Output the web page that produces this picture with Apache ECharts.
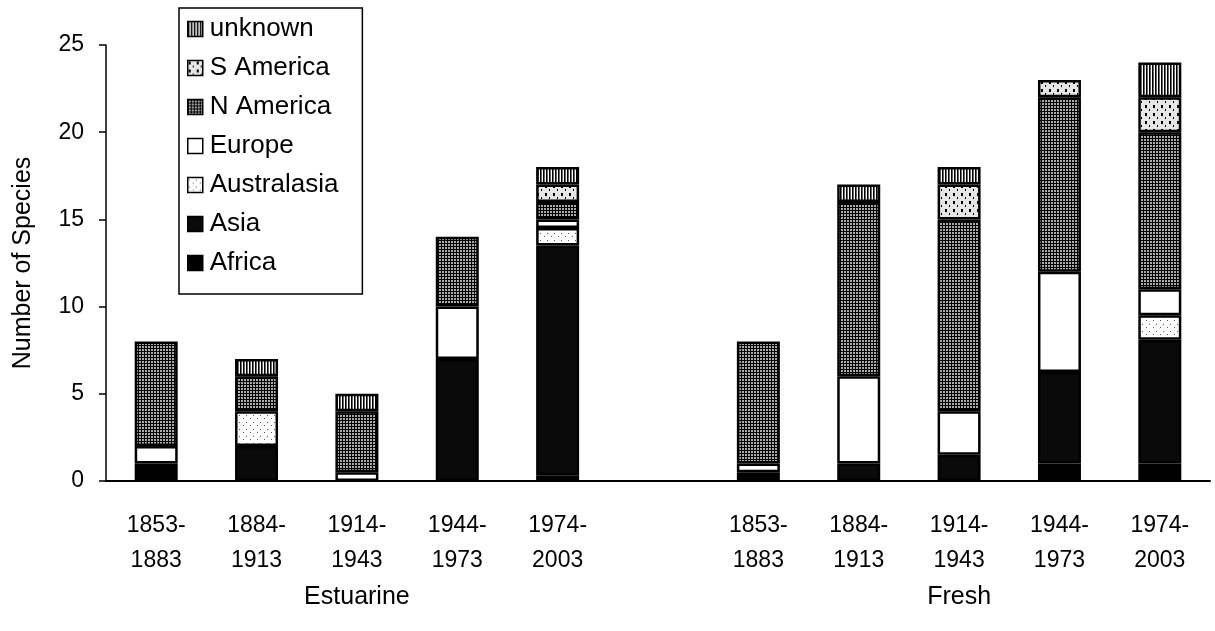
<!DOCTYPE html>
<html>
<head>
<meta charset="utf-8">
<script src="https://cdn.jsdelivr.net/npm/echarts@6/dist/echarts.min.js"></script>
<style>
  html, body { margin: 0; padding: 0; background: #fff; }
  #chart { width: 1215px; height: 631px; }
</style>
</head>
<body>
<div id="chart"></div>
<script>
// periods, with an empty slot between the two habitat groups
var periods = ['1853-\n1883', '1884-\n1913', '1914-\n1943', '1944-\n1973', '1974-\n2003', '',
               '1853-\n1883', '1884-\n1913', '1914-\n1943', '1944-\n1973', '1974-\n2003'];
var groupLabels = ['', '', 'Estuarine', '', '', '', '', '', 'Fresh', '', ''];

// species counts per origin (bottom of the stack first)
var africa      = [1, 0, 0,   0, 0.33,  0, 0.5, 0,  0,   1,    1];
var asia        = [0, 2, 0,   7, 13.17, 0, 0,   1,  1.5, 5.25, 7.1];
var australasia = [0, 2, 0,   0, 1,     0, 0,   0,  0,   0,    1.4];
var europe      = [1, 0, 0.5, 3, 0.5,   0, 0.5, 5,  2.5, 5.75, 1.5];
var nAmerica    = [6, 2, 3.5, 4, 1,     0, 7,   10, 11,  10,   9];
var sAmerica    = [0, 0, 0,   0, 1,     0, 0,   0,  2,   1,    2];
var unknown     = [0, 1, 1,   0, 1,     0, 0,   1,  1,   0,    2];

var yTicks = [0, 5, 10, 15, 20, 25];

var FONT = 'Arial, "Liberation Sans", sans-serif';

// small canvas tiles to mimic the print hatchings
var tile = function(w, h, bg, draw) {
    var c = document.createElement('canvas');
    c.width = w; c.height = h;
    var ctx = c.getContext('2d');
    ctx.fillStyle = bg;
    ctx.fillRect(0, 0, w, h);
    ctx.fillStyle = '#000';
    draw(ctx);
    return { image: c, repeat: 'repeat' };
};

var patUnknown = tile(3, 4, '#fff', function(ctx) {
    ctx.fillRect(0, 0, 1, 4);
    ctx.fillStyle = '#666';
    ctx.fillRect(1, 0, 1, 4);
});
var patNAm = tile(3, 3, '#aaa', function(ctx) {
    ctx.fillRect(0, 0, 1, 3);
    ctx.fillRect(0, 0, 3, 1);
});
var patSAm = tile(8, 8, '#e6e6e6', function(ctx) {
    ctx.fillRect(1, 1, 2, 3);
    ctx.fillRect(5, 5, 1, 2);
});
var patAus = tile(7, 7, '#fff', function(ctx) {
    ctx.fillStyle = '#555';
    ctx.fillRect(1, 2, 1, 1);
    ctx.fillRect(5, 5, 1, 1);
});

var origins = [
    { name: 'Africa',      data: africa,      color: '#000' },
    { name: 'Asia',        data: asia,        color: '#0a0a0a' },
    { name: 'Australasia', data: australasia, color: patAus },
    { name: 'Europe',      data: europe,      color: '#fff' },
    { name: 'N America',   data: nAmerica,    color: patNAm },
    { name: 'S America',   data: sAmerica,    color: patSAm },
    { name: 'unknown',     data: unknown,     color: patUnknown }
];

var series = origins.map(function(o) {
    return {
        name: o.name,
        type: 'bar',
        stack: 'total',
        barWidth: 43,
        xAxisIndex: 0,
        data: o.data.map(function(v) { return v === 0 ? '-' : v; }),
        itemStyle: { color: o.color, borderColor: '#000', borderWidth: 2.5 },
        emphasis: { disabled: true }
    };
});

var chart = echarts.init(document.getElementById('chart'));
chart.setOption({
    backgroundColor: '#fff',
    animation: false,
    textStyle: { fontFamily: FONT, color: '#000' },
    grid: { left: 106, right: 5, top: 45, bottom: 150 },
    legend: {
        orient: 'vertical',
        left: 179,
        top: 8,
        padding: [8, 24, 18, 8],
        itemGap: 13,
        itemWidth: 15,
        itemHeight: 15,
        borderColor: '#000',
        borderWidth: 1.5,
        backgroundColor: '#fff',
        icon: 'rect',
        itemStyle: { borderWidth: 1.5, borderColor: '#000' },
        textStyle: { fontSize: 26, color: '#000', fontFamily: FONT, padding: [0, 0, 0, 2] },
        data: origins.slice().reverse().map(function(o) { return o.name; })
    },
    xAxis: [
        {
            type: 'category',
            data: periods,
            axisLine: { lineStyle: { color: '#000', width: 2 } },
            axisTick: { show: false },
            axisLabel: { fontSize: 23, color: '#000', lineHeight: 35, margin: 27, interval: 0 }
        },
        {
            type: 'category',
            data: groupLabels,
            position: 'bottom',
            offset: 96,
            axisLine: { show: false },
            axisTick: { show: false },
            axisLabel: { fontSize: 25, color: '#000', margin: 8, interval: 0 }
        }
    ],
    yAxis: {
        type: 'value',
        min: yTicks[0],
        max: yTicks[yTicks.length - 1],
        interval: 5,
        name: 'Number of Species',
        nameLocation: 'middle',
        nameGap: 70,
        nameTextStyle: { fontSize: 25, color: '#000' },
        splitLine: { show: false },
        axisLine: { show: true, lineStyle: { color: '#000', width: 1.5 } },
        axisTick: { show: true, length: 7, lineStyle: { color: '#000', width: 1.5 } },
        axisLabel: { fontSize: 23, color: '#000', margin: 22 }
    },
    series: series
});
</script>
</body>
</html>
